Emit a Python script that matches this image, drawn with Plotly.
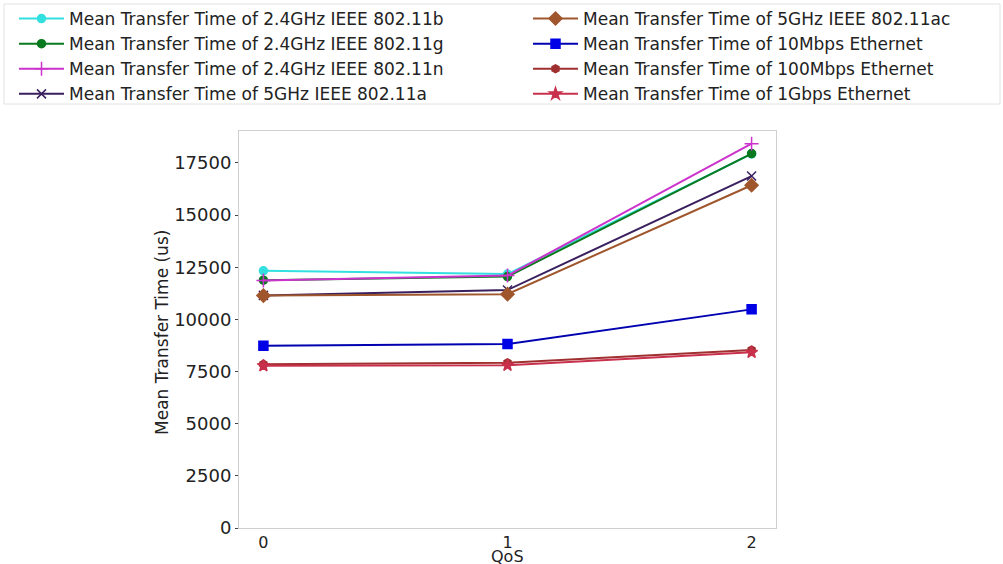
import plotly.graph_objects as go

qos = [0, 1, 2]
names = [
    "Mean Transfer Time of 2.4GHz IEEE 802.11b",
    "Mean Transfer Time of 2.4GHz IEEE 802.11g",
    "Mean Transfer Time of 2.4GHz IEEE 802.11n",
    "Mean Transfer Time of 5GHz IEEE 802.11a",
    "Mean Transfer Time of 5GHz IEEE 802.11ac",
    "Mean Transfer Time of 10Mbps Ethernet",
    "Mean Transfer Time of 100Mbps Ethernet",
    "Mean Transfer Time of 1Gbps Ethernet",
]
wifi_b = [12330, 12170, 17930]
wifi_g = [11880, 12050, 17950]
wifi_n = [11860, 12100, 18420]
wifi_a = [11150, 11410, 16870]
wifi_ac = [11140, 11210, 16430]
eth_10m = [8740, 8820, 10480]
eth_100m = [7850, 7920, 8530]
eth_1g = [7780, 7800, 8420]
y_ticks = [0, 2500, 5000, 7500, 10000, 12500, 15000, 17500]
x_title = "QoS"
y_title = "Mean Transfer Time (us)"

series = [wifi_b, wifi_g, wifi_n, wifi_a, wifi_ac, eth_10m, eth_100m, eth_1g]
colors = ["#33e0e0", "#0a7a1e", "#cc33cc", "#3a1f5e", "#a0562d", "#0000e6", "#a03030", "#c8304c"]
line_colors = ["#33e0e0", "#0a7a1e", "#cc33cc", "#3a1f5e", "#a0562d", "#0000b0", "#a03030", "#c8304c"]
symbols = ["circle", "circle", "cross-thin-open", "x-thin-open", "diamond", "square", "hexagon", "star"]
sizes = [8, 8, 10, 9, 10, 9, 8, 9]
legend_ids = ["legend"] * 4 + ["legend2"] * 4

fig = go.Figure()
for i in range(len(series)):
    fig.add_trace(go.Scatter(
        x=qos, y=series[i], name=names[i], mode="lines+markers",
        line=dict(color=line_colors[i], width=2),
        marker=dict(symbol=symbols[i], size=sizes[i], color=colors[i],
                    line=dict(color=colors[i], width=1.5)),
        legend=legend_ids[i],
    ))

ML, MR, MT, MB = 239, 227, 131, 36
W, H = 1003, 564
pw, ph = W - ML - MR, H - MT - MB

def px_to_paper_x(px):
    return (px - ML) / pw

def px_to_paper_y(py):
    return 1 - (py - MT) / ph

legend_common = dict(
    orientation="v", xref="paper", yref="paper",
    xanchor="left", yanchor="top",
    itemwidth=45, tracegroupgap=0,
    font=dict(size=17, family="DejaVu Sans", color="#222222"),
    borderwidth=0, bgcolor="rgba(0,0,0,0)", traceorder="normal",
)

fig.update_layout(
    width=W, height=H,
    paper_bgcolor="white", plot_bgcolor="white",
    margin=dict(l=ML, r=MR, t=MT, b=MB, autoexpand=False),
    font=dict(family="DejaVu Sans", color="#222222"),
    showlegend=True,
    legend=dict(x=px_to_paper_x(14), y=px_to_paper_y(1), **legend_common),
    legend2=dict(x=px_to_paper_x(528), y=px_to_paper_y(1), **legend_common),
    shapes=[dict(
        type="rect", xref="paper", yref="paper", layer="below",
        x0=px_to_paper_x(4), x1=px_to_paper_x(1000),
        y0=px_to_paper_y(104), y1=px_to_paper_y(4),
        line=dict(color="#e2e2e2", width=1), fillcolor="white",
    )],
    annotations=[
        dict(text=x_title, xref="paper", yref="paper",
             x=0.5, y=px_to_paper_y(556), xanchor="center", yanchor="middle",
             showarrow=False, font=dict(size=16, color="#222222")),
        dict(text=y_title, xref="paper", yref="paper", textangle=-90,
             x=px_to_paper_x(162), y=px_to_paper_y(333), xanchor="center", yanchor="middle",
             showarrow=False, font=dict(size=17, color="#222222")),
    ],
    xaxis=dict(
        range=[-0.1, 2.1], tickvals=qos, ticktext=[str(q) for q in qos],
        showgrid=False, zeroline=False, automargin=False,
        showline=True, linecolor="#cfcfcf", linewidth=1, mirror=True,
        ticks="", tickfont=dict(size=16),
    ),
    yaxis=dict(
        range=[0, 19030], tickvals=y_ticks, tickformat="d",
        showgrid=False, zeroline=False, automargin=False,
        showline=True, linecolor="#cfcfcf", linewidth=1, mirror=True,
        ticks="outside", ticklen=3, tickcolor="#444444",
        tickfont=dict(size=18),
    ),
)

fig.write_html("out.html", config={"displayModeBar": False},
               post_script="document.body.style.margin='0';document.body.style.padding='0';")
